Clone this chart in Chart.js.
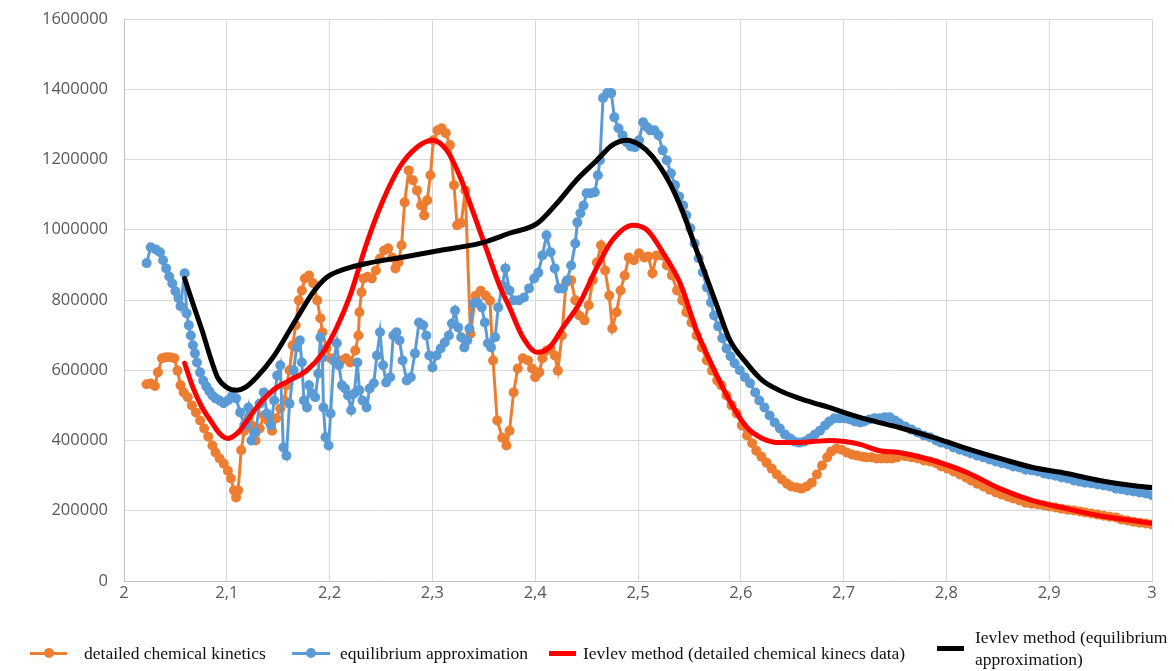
<!DOCTYPE html>
<html>
<head>
<meta charset="utf-8">
<title>Ievlev method comparison</title>
<script src="https://cdn.jsdelivr.net/npm/chart.js@4.4.0/dist/chart.umd.min.js"></script>
<style>
  html, body { margin: 0; padding: 0; background: #ffffff; }
  #wrap { position: relative; width: 1174px; height: 671px; overflow: hidden; }
  #chart { position: absolute; left: 0; top: 0; }
  .lg-item { position: absolute; font-family: "Liberation Serif", "Times New Roman", serif; font-size: 17.5px; color: #111; line-height: 22px; white-space: nowrap; }
  .lg-mark { position: absolute; }
  .lg-line { position: absolute; left: 0; }
  .lg-dot { position: absolute; border-radius: 50%; }
</style>
</head>
<body>
<div id="wrap">
  <canvas id="chart" width="1174" height="671"></canvas>
</div>
<script>
// x axis: 2 .. 3, y axis: 0 .. 1 600 000
const xTicks = [2, 2.1, 2.2, 2.3, 2.4, 2.5, 2.6, 2.7, 2.8, 2.9, 3];
const yTicks = [0, 200000, 400000, 600000, 800000, 1000000, 1200000, 1400000, 1600000];

const seriesNames = [
  "detailed chemical kinetics",
  "equilibrium approximation",
  "Ievlev method (detailed chemical kinecs data)",
  "Ievlev method (equilibrium approximation)"
];

// detailed chemical kinetics: [x, value]
const kinetics = [
  [2.022,560000],[2.026,562000],[2.030,555000],[2.033,594000],[2.037,634000],[2.041,637000],[2.045,637000],[2.049,634000],
  [2.052,599000],[2.055,557000],[2.058,537000],[2.062,523000],[2.066,500000],[2.070,480000],[2.074,457000],[2.078,434000],
  [2.082,411000],[2.086,386000],[2.089,366000],[2.093,349000],[2.097,334000],[2.101,314000],[2.104,292000],[2.107,258000],
  [2.109,238000],[2.111,258000],[2.114,372000],[2.117,428000],[2.121,463000],[2.124,443000],[2.128,400000],[2.132,434000],
  [2.136,471000],[2.140,457000],[2.144,428000],[2.148,463000],[2.152,491000],[2.156,514000],[2.158,557000],[2.161,600000],
  [2.164,671000],[2.167,728000],[2.170,799000],[2.173,827000],[2.176,861000],[2.180,870000],[2.184,848000],[2.188,799000],
  [2.191,748000],[2.193,708000],[2.197,662000],[2.201,634000],[2.206,622000],[2.211,628000],[2.216,634000],[2.220,622000],
  [2.225,656000],[2.228,699000],[2.229,765000],[2.231,822000],[2.233,861000],[2.237,866000],[2.241,861000],[2.245,884000],
  [2.249,918000],[2.253,941000],[2.257,947000],[2.261,921000],[2.264,890000],[2.267,907000],[2.270,956000],[2.273,1078000],
  [2.277,1169000],[2.281,1141000],[2.285,1112000],[2.289,1069000],[2.292,1041000],[2.295,1084000],[2.298,1155000],[2.301,1255000],
  [2.305,1283000],[2.309,1289000],[2.313,1275000],[2.317,1241000],[2.321,1127000],[2.324,1013000],[2.328,1019000],[2.332,1112000],
  [2.337,704000],[2.342,812000],[2.347,826000],[2.352,812000],[2.356,798000],[2.359,628000],[2.363,457000],[2.368,408000],
  [2.372,386000],[2.375,428000],[2.379,537000],[2.383,605000],[2.388,634000],[2.393,628000],[2.397,605000],[2.400,580000],
  [2.404,594000],[2.407,634000],[2.411,656000],[2.415,662000],[2.419,642000],[2.422,599000],[2.426,699000],[2.430,850000],
  [2.435,856000],[2.439,799000],[2.443,756000],[2.448,742000],[2.452,785000],[2.456,856000],[2.460,907000],[2.464,956000],
  [2.468,884000],[2.472,813000],[2.475,719000],[2.479,765000],[2.483,827000],[2.487,870000],[2.491,921000],[2.496,913000],
  [2.501,933000],[2.506,921000],[2.510,924000],[2.514,876000],[2.518,927000],[2.523,927000],[2.528,899000],[2.533,870000],
  [2.538,827000],[2.543,799000],[2.547,765000],[2.552,736000],[2.557,699000],[2.562,665000],[2.567,628000],[2.572,599000],
  [2.577,571000],[2.581,557000],[2.586,528000],[2.591,500000],[2.596,477000],[2.601,443000],[2.606,414000],[2.611,392000],
  [2.615,371000],[2.620,354000],[2.625,337000],[2.630,320000],[2.635,303000],[2.640,289000],[2.645,277000],[2.649,269000],
  [2.654,266000],[2.659,263000],[2.664,269000],[2.669,280000],[2.674,303000],[2.679,329000],[2.684,352000],[2.688,369000],
  [2.693,377000],[2.698,374000],[2.703,366000],[2.708,360000],[2.713,357000],[2.718,354000],[2.722,352000],[2.727,352000],
  [2.732,349000],[2.737,349000],[2.742,349000],[2.747,349000],[2.752,352000],[2.760,355000],[2.766,352000],[2.772,349000],
  [2.778,343000],[2.784,340000],[2.790,335000],[2.795,326000],[2.801,320000],[2.807,312000],[2.813,303000],[2.819,295000],
  [2.824,286000],[2.830,277000],[2.836,269000],[2.842,260000],[2.848,252000],[2.854,246000],[2.860,240000],[2.865,235000],
  [2.871,229000],[2.877,223000],[2.883,220000],[2.889,218000],[2.895,215000],[2.900,212000],[2.906,209000],[2.912,206000],
  [2.918,203000],[2.924,201000],[2.930,198000],[2.935,195000],[2.941,192000],[2.947,189000],[2.953,186000],[2.959,183000],
  [2.965,181000],[2.970,175000],[2.976,172000],[2.982,169000],[2.988,166000],[2.994,164000],[3.000,161000]
];

// equilibrium approximation: [x, value]
const equilibrium = [
  [2.022,905000],[2.026,950000],[2.031,944000],[2.035,936000],[2.038,913000],[2.041,890000],[2.044,867000],[2.047,847000],
  [2.050,825000],[2.053,805000],[2.055,782000],[2.059,876000],[2.061,762000],[2.063,728000],[2.065,699000],[2.067,671000],
  [2.069,648000],[2.071,622000],[2.074,594000],[2.077,571000],[2.080,554000],[2.083,540000],[2.086,528000],[2.089,520000],
  [2.093,514000],[2.097,506000],[2.101,514000],[2.105,526000],[2.109,520000],[2.113,480000],[2.117,443000],[2.121,494000],
  [2.124,400000],[2.128,423000],[2.132,505000],[2.136,537000],[2.139,477000],[2.143,443000],[2.146,514000],[2.149,585000],
  [2.152,614000],[2.155,380000],[2.158,357000],[2.161,505000],[2.165,600000],[2.168,665000],[2.171,685000],[2.173,622000],
  [2.175,514000],[2.178,494000],[2.180,557000],[2.183,534000],[2.186,523000],[2.189,591000],[2.191,694000],[2.193,636000],
  [2.194,494000],[2.196,409000],[2.199,386000],[2.201,477000],[2.204,628000],[2.207,677000],[2.209,614000],[2.212,557000],
  [2.215,548000],[2.218,528000],[2.221,486000],[2.224,534000],[2.227,622000],[2.229,543000],[2.232,514000],[2.236,494000],
  [2.239,548000],[2.243,563000],[2.246,642000],[2.249,708000],[2.252,614000],[2.255,565000],[2.259,580000],[2.262,699000],
  [2.265,708000],[2.268,685000],[2.271,628000],[2.275,571000],[2.279,580000],[2.283,648000],[2.287,736000],[2.291,728000],
  [2.294,699000],[2.297,642000],[2.300,608000],[2.304,642000],[2.308,662000],[2.312,679000],[2.316,699000],[2.319,733000],
  [2.322,770000],[2.325,722000],[2.328,694000],[2.331,665000],[2.334,685000],[2.336,719000],[2.340,790000],[2.344,793000],
  [2.348,779000],[2.351,736000],[2.354,677000],[2.357,665000],[2.361,694000],[2.364,779000],[2.368,842000],[2.371,890000],
  [2.375,827000],[2.379,799000],[2.384,799000],[2.389,807000],[2.394,833000],[2.399,861000],[2.403,878000],[2.407,927000],
  [2.411,984000],[2.415,936000],[2.419,890000],[2.423,833000],[2.427,833000],[2.431,856000],[2.435,898000],[2.439,961000],
  [2.441,1021000],[2.444,1047000],[2.447,1069000],[2.450,1104000],[2.454,1104000],[2.458,1107000],[2.461,1155000],[2.463,1198000],
  [2.466,1375000],[2.470,1389000],[2.474,1389000],[2.477,1320000],[2.481,1289000],[2.485,1269000],[2.489,1249000],[2.493,1237000],
  [2.497,1235000],[2.501,1255000],[2.505,1306000],[2.509,1292000],[2.512,1283000],[2.516,1283000],[2.520,1269000],[2.524,1226000],
  [2.528,1198000],[2.532,1161000],[2.536,1127000],[2.540,1095000],[2.544,1069000],[2.547,1041000],[2.551,1004000],[2.555,961000],
  [2.559,919000],[2.563,879000],[2.567,836000],[2.571,793000],[2.574,756000],[2.578,725000],[2.582,691000],[2.586,662000],
  [2.590,640000],[2.594,620000],[2.599,600000],[2.604,580000],[2.609,563000],[2.614,537000],[2.618,514000],[2.623,494000],
  [2.628,471000],[2.633,451000],[2.638,434000],[2.643,417000],[2.648,406000],[2.652,397000],[2.657,394000],[2.662,397000],
  [2.667,406000],[2.672,417000],[2.677,428000],[2.682,443000],[2.686,454000],[2.691,463000],[2.696,463000],[2.701,463000],
  [2.706,460000],[2.711,454000],[2.716,451000],[2.720,454000],[2.725,460000],[2.730,463000],[2.735,463000],[2.740,466000],
  [2.745,466000],[2.750,457000],[2.754,449000],[2.760,440000],[2.766,431000],[2.772,423000],[2.778,414000],[2.784,409000],
  [2.790,400000],[2.795,394000],[2.801,389000],[2.807,380000],[2.813,374000],[2.819,369000],[2.824,363000],[2.830,357000],
  [2.836,352000],[2.842,346000],[2.848,340000],[2.854,335000],[2.860,332000],[2.865,326000],[2.871,323000],[2.877,317000],
  [2.883,315000],[2.889,312000],[2.895,306000],[2.900,303000],[2.906,300000],[2.912,295000],[2.918,292000],[2.924,286000],
  [2.930,283000],[2.935,280000],[2.941,278000],[2.947,275000],[2.953,272000],[2.959,269000],[2.965,263000],[2.970,261000],
  [2.976,258000],[2.982,255000],[2.988,252000],[2.994,249000],[3.000,244000]
];

// Ievlev method fitted to the detailed kinetics data
const ievlevKinetics = [
  [2.059,620000],[2.067,551000],[2.076,494000],[2.086,449000],[2.093,420000],[2.101,406000],[2.110,420000],[2.118,449000],
  [2.129,494000],[2.145,543000],[2.161,571000],[2.178,600000],[2.193,648000],[2.207,722000],[2.220,813000],[2.236,961000],
  [2.252,1084000],[2.268,1178000],[2.285,1235000],[2.300,1255000],[2.314,1226000],[2.327,1150000],[2.339,1055000],[2.353,941000],
  [2.366,836000],[2.375,779000],[2.388,694000],[2.402,651000],[2.414,665000],[2.427,722000],[2.443,790000],[2.460,893000],
  [2.475,970000],[2.495,1013000],[2.509,999000],[2.524,936000],[2.541,848000],[2.557,713000],[2.573,608000],[2.589,514000],
  [2.606,437000],[2.621,406000],[2.638,394000],[2.654,394000],[2.670,397000],[2.686,400000],[2.701,397000],[2.716,389000],
  [2.735,371000],[2.754,366000],[2.787,343000],[2.820,309000],[2.852,263000],[2.884,229000],[2.917,206000],[2.949,186000],
  [2.981,172000],[3.000,164000]
];

// Ievlev method fitted to the equilibrium approximation
const ievlevEquilibrium = [
  [2.059,861000],[2.067,790000],[2.076,713000],[2.084,637000],[2.091,580000],[2.100,551000],[2.110,543000],[2.118,551000],
  [2.129,580000],[2.145,637000],[2.161,713000],[2.171,762000],[2.184,822000],[2.197,864000],[2.217,890000],[2.236,904000],
  [2.275,924000],[2.307,941000],[2.346,961000],[2.375,990000],[2.402,1018000],[2.421,1075000],[2.440,1141000],[2.460,1198000],
  [2.475,1241000],[2.489,1255000],[2.502,1241000],[2.514,1209000],[2.531,1132000],[2.544,1047000],[2.557,941000],[2.577,782000],
  [2.589,688000],[2.606,619000],[2.621,571000],[2.638,542000],[2.654,523000],[2.670,508000],[2.686,494000],[2.703,477000],
  [2.719,463000],[2.735,451000],[2.754,437000],[2.787,409000],[2.820,377000],[2.852,349000],[2.884,323000],[2.917,306000],
  [2.949,286000],[2.981,272000],[3.000,266000]
];

const colors = ["#ED7D31", "#5B9BD5", "#FF0000", "#000000"];

const toPts = arr => arr.map(([x, y]) => ({ x, y }));

const axisFont = { family: "'Open Sans', 'Liberation Sans', sans-serif", size: 16.5 };
const gridColor = "#d9d9d9";

const markerSeries = (i, pts, order) => ({
  label: seriesNames[i],
  data: toPts(pts),
  showLine: true,
  borderColor: colors[i],
  backgroundColor: colors[i],
  borderWidth: 3,
  pointRadius: 5,
  pointBorderWidth: 0,
  pointHoverRadius: 5,
  order
});

const curveSeries = (i, pts, order) => ({
  label: seriesNames[i],
  data: toPts(pts),
  showLine: true,
  borderColor: colors[i],
  backgroundColor: colors[i],
  borderWidth: 5,
  pointRadius: 0,
  cubicInterpolationMode: "monotone",
  borderCapStyle: "round",
  borderJoinStyle: "round",
  order
});

const fmtX = v => {
  const r = Math.round(v * 10) / 10;
  return Number.isInteger(r) ? String(r) : r.toFixed(1).replace(".", ",");
};

new Chart(document.getElementById("chart"), {
  type: "scatter",
  data: {
    datasets: [
      markerSeries(0, kinetics, 3),
      markerSeries(1, equilibrium, 2),
      curveSeries(2, ievlevKinetics, 1),
      curveSeries(3, ievlevEquilibrium, 0)
    ]
  },
  options: {
    responsive: false,
    animation: false,
    events: [],
    layout: { padding: { top: 19, right: 22, bottom: 60, left: 0 } },
    plugins: { legend: { display: false }, tooltip: { enabled: false } },
    scales: {
      x: {
        type: "linear",
        min: xTicks[0],
        max: xTicks[xTicks.length - 1],
        afterBuildTicks: s => { s.ticks = xTicks.map(v => ({ value: v })); },
        afterFit: s => { s.height = 30; s.paddingLeft = 0; s.paddingRight = 0; },
        ticks: { callback: fmtX, color: "#595959", font: axisFont, padding: 2, maxRotation: 0, autoSkip: false },
        grid: { color: gridColor, lineWidth: 1, drawTicks: false },
        border: { color: "#bfbfbf", width: 1 }
      },
      y: {
        min: yTicks[0],
        max: yTicks[yTicks.length - 1],
        afterBuildTicks: s => { s.ticks = yTicks.map(v => ({ value: v })); },
        afterFit: s => { s.width = 124; s.paddingTop = 0; s.paddingBottom = 0; },
        ticks: { callback: v => String(v), color: "#595959", font: axisFont, padding: 16, autoSkip: false },
        grid: { color: gridColor, lineWidth: 1, drawTicks: false },
        border: { color: "#bfbfbf", width: 1 }
      }
    }
  }
});

// legend row under the plot
const legendLayout = [
  { left: 30, markW: 37, text: 84, top: 642, dot: true, lines: [seriesNames[0]] },
  { left: 292, markW: 38, text: 340, top: 642, dot: true, lines: [seriesNames[1]] },
  { left: 549, markW: 27, text: 583, top: 642, dot: false, lines: [seriesNames[2]] },
  { left: 937, markW: 27, text: 975, top: 626, dot: false, lines: ["Ievlev method (equilibrium", "approximation)"] }
];
const wrap = document.getElementById("wrap");
legendLayout.forEach((it, i) => {
  const mark = document.createElement("div");
  mark.className = "lg-mark";
  const midY = it.top + it.lines.length * 11;
  mark.style.left = it.left + "px";
  mark.style.top = (midY - (it.dot ? 5 : 2)) + "px";
  mark.style.width = it.markW + "px";
  mark.style.height = (it.dot ? 10 : 5) + "px";
  const line = document.createElement("div");
  line.className = "lg-line";
  line.style.width = it.markW + "px";
  line.style.height = (it.dot ? 3 : 5) + "px";
  line.style.top = (it.dot ? 3.5 : 0) + "px";
  line.style.background = colors[i];
  mark.appendChild(line);
  if (it.dot) {
    const dot = document.createElement("div");
    dot.className = "lg-dot";
    dot.style.width = "10px";
    dot.style.height = "10px";
    dot.style.left = (it.markW / 2 - 5) + "px";
    dot.style.top = "0px";
    dot.style.background = colors[i];
    mark.appendChild(dot);
  }
  wrap.appendChild(mark);
  const txt = document.createElement("div");
  txt.className = "lg-item";
  txt.style.left = it.text + "px";
  txt.style.top = it.top + "px";
  txt.innerHTML = it.lines.map(s => s.replace(/&/g, "&amp;").replace(/</g, "&lt;")).join("<br>");
  wrap.appendChild(txt);
});
</script>
</body>
</html>
